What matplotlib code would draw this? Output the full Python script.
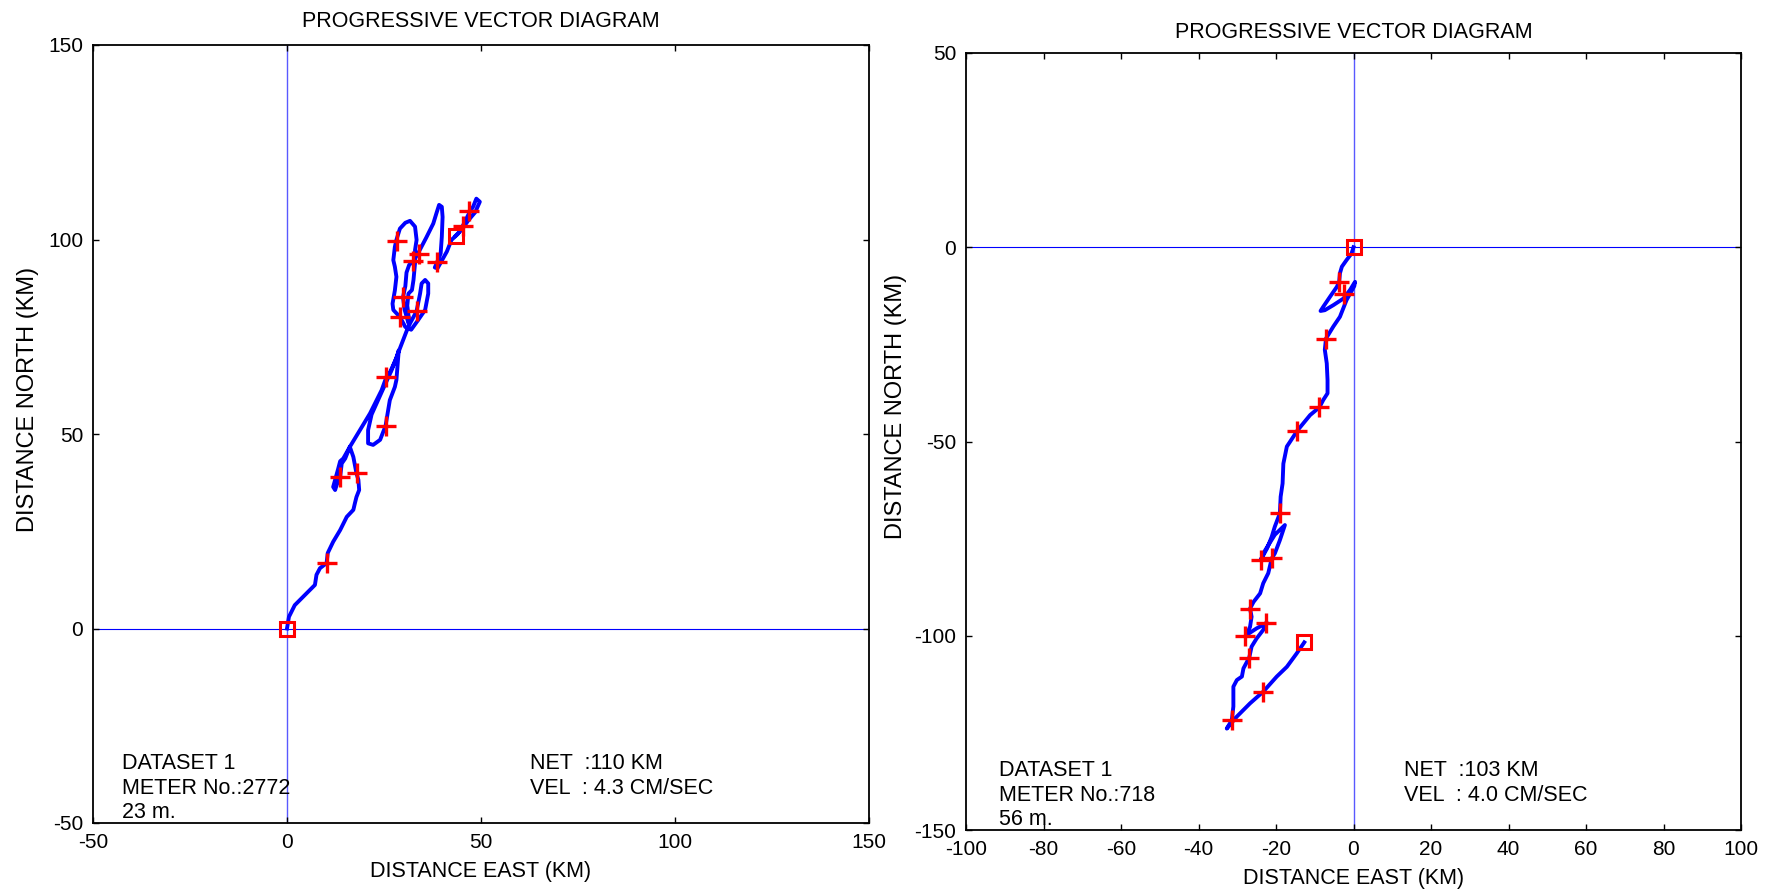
import matplotlib
matplotlib.use("Agg")
import matplotlib.pyplot as plt

plt.rcParams['font.family'] = ['Liberation Sans', 'DejaVu Sans']
plt.rcParams['axes.unicode_minus'] = False

# ---------------- data: left panel (meter 2772) ----------------
left_east = [0, 0.5, 2.0, 4.0, 6.3, 7.2, 7.6, 8.5, 10.2, 10.5, 11.9, 13.7, 15.4, 17.1,
             17.5, 17.9, 18.6, 18.4, 17.9, 17.1, 16.2,
             14.5, 13.7, 13.2, 12.4, 11.9, 12.4, 12.8, 13.7, 14.1, 15.0, 16.2,
             21.4, 24.4, 25.6, 26.5, 28.2, 28.8, 28.6, 28.2, 27.8, 26.5, 25.4, 24.0,
             22.2, 20.9, 20.9, 21.8, 24.5, 27.0, 29.1, 30.8,
             31.7, 33.4, 34.3, 34.7, 35.6, 36.4, 36.4, 35.6, 33.8, 32.0, 30.5,
             29.1, 27.4, 27.2, 27.8, 28.2, 27.8, 27.4, 27.8, 28.2, 29.1, 30.5, 31.7,
             33.0, 33.4, 33.0, 33.0, 32.6, 32.2, 31.3, 31.0, 31.5, 31.3,
             30.3, 29.9, 30.5, 30.8, 31.5, 32.6, 33.8, 35.9, 37.7, 38.5, 39.2, 39.9,
             40.1, 39.9, 39.6, 38.7, 38.1, 38.8, 41.2, 42.4, 44.1, 45.4, 46.8, 48.0,
             48.8, 49.7, 48.5, 46.8, 45.0, 43.5]
left_north = [0, 3.0, 6.0, 8.0, 10.3, 11.2, 13.8, 15.5, 16.8, 19.4, 22.3, 25.3, 28.7, 30.5,
              32.2, 33.8, 35.6, 38.2, 39.9, 44.1, 46.7,
              43.7, 43.0, 41.1, 38.2, 36.4, 35.6, 36.9, 39.0, 42.4, 43.7, 46.7,
              55.3, 61.3, 64.6, 65.8, 69.5, 71.5, 69.0, 63.9, 62.1, 58.7, 52.1, 48.5,
              47.2, 47.6, 51.0, 55.0, 61.0, 66.5, 72.0, 76.4,
              78.4, 81.6, 86.1, 88.7, 89.6, 88.7, 86.1, 81.9, 79.3, 76.8, 77.5,
              80.1, 81.9, 83.5, 86.9, 90.4, 93.0, 94.7, 98.1, 99.9, 102.8, 104.3, 104.8,
              103.3, 99.9, 97.3, 93.9, 89.6, 87.0, 86.1, 83.0, 79.0, 78.5,
              82.0, 85.2, 88.0, 91.5, 93.5, 94.4, 96.5, 100.5, 104.1, 106.7, 108.9, 108.4,
              105.8, 100.7, 96.4, 94.2, 92.8, 92.6, 96.9, 99.9, 101.5, 103.7, 106.5, 108.5,
              110.5, 109.7, 107.0, 105.0, 102.5, 101.0]
left_cross_east = [10.3, 13.7, 18.1, 25.4, 25.6, 29.1, 33.5, 30.0, 28.4, 32.6, 34.0, 38.7, 45.4, 46.8]
left_cross_north = [16.8, 39.0, 39.9, 52.1, 64.6, 80.0, 81.6, 85.2, 99.7, 94.4, 96.4, 94.2, 103.5, 107.2]

# ---------------- data: right panel (meter 718) ----------------
right_east = [0, -0.5, -1.8, -3.0, -3.5, -3.7, -4.3, -6.1, -7.8, -8.5, -7.4, -5.2, -2.6,
              -0.9, 0.4, 0.2, -1.8, -3.5, -5.2, -7.1, -7.4, -6.9, -6.7, -6.7, -7.8, -8.8,
              -11.2, -14.5, -16.4, -17.2, -18.1, -18.3, -18.8, -19.0, -20.3, -21.1, -22.3,
              -23.9, -22.8, -20.3, -17.7, -19.0, -20.3, -21.1, -21.5, -22.0, -23.3, -24.1,
              -25.8, -26.7, -26.3, -26.7, -27.6, -25.0, -23.3, -22.4, -23.3, -25.0, -26.3,
              -26.9, -28.4, -28.8, -30.1, -31.0, -31.0, -31.4, -32.7, -30.1, -26.7, -23.3,
              -19.8, -17.2, -14.7, -12.9, -12.7]
right_north = [0, -1.6, -3.3, -5.0, -6.7, -8.9, -10.2, -12.8, -15.3, -16.4, -16.2, -14.9, -13.2,
               -11.0, -8.9, -10.0, -13.6, -17.9, -20.4, -23.5, -26.4, -29.9, -34.2, -37.6, -39.3, -41.2,
               -43.2, -47.2, -50.1, -51.3, -55.7, -60.8, -64.2, -68.5, -71.9, -74.5, -77.5,
               -80.4, -78.0, -74.0, -71.5, -75.4, -78.8, -80.1, -81.8, -83.9, -86.5, -89.1,
               -91.3, -93.0, -95.1, -97.7, -99.8, -98.1, -97.2, -96.6, -98.5, -100.7, -102.8,
               -105.6, -108.4, -110.5, -111.4, -113.1, -118.2, -121.7, -123.9, -120.8, -117.4, -114.4,
               -110.5, -108.0, -104.6, -102.0, -101.7]
right_cross_east = [-3.7, -2.5, -7.1, -8.8, -14.5, -19.0, -21.1, -23.9, -26.7, -22.6, -28.0, -26.9, -23.3, -31.4]
right_cross_north = [-8.9, -12.0, -23.5, -41.2, -47.2, -68.5, -80.1, -80.4, -93.0, -96.7, -100.1, -105.6, -114.4, -121.7]

# ---------------- tick / text content ----------------
left_xticks = [-50, 0, 50, 100, 150]
left_yticks = [-50, 0, 50, 100, 150]
right_xticks = [-100, -80, -60, -40, -20, 0, 20, 40, 60, 80, 100]
right_yticks = [-150, -100, -50, 0, 50]

title_text = "PROGRESSIVE VECTOR DIAGRAM"
xlabel_text = "DISTANCE EAST (KM)"
ylabel_text = "DISTANCE NORTH (KM)"
left_info = ["DATASET 1", "METER No.:2772", "23 m."]
left_stats = ["NET  :110 KM", "VEL  : 4.3 CM/SEC"]
right_info = ["DATASET 1", "METER No.:718", "56 m."]
right_stats = ["NET  :103 KM", "VEL  : 4.0 CM/SEC"]

FS = 15.5
TFS = 15

fig = plt.figure(figsize=(17.75, 8.92), dpi=100)
axL = fig.add_axes([93/1775, 1-823/892, 776/1775, 778/892])
axR = fig.add_axes([966/1775, 1-830/892, 775/1775, 777/892])


def style(ax, xlim, ylim, xt, yt, pad_title, ylab_x, ylab_y):
    ax.set_xlim(*xlim)
    ax.set_ylim(*ylim)
    ax.set_xticks(xt)
    ax.set_yticks(yt)
    ax.tick_params(direction='in', top=True, right=True, length=4, width=1,
                   labelsize=TFS, pad=7)
    for s in ax.spines.values():
        s.set_linewidth(1.3)
        s.set_color('black')
    ax.axhline(0, color=(0, 0, 1), lw=0.8, zorder=1)
    ax.axvline(0, color=(0.35, 0.35, 1), lw=1.0, zorder=1)
    ax.set_title(title_text, fontsize=FS, pad=pad_title)
    ax.set_xlabel(xlabel_text, fontsize=FS, labelpad=7)
    ax.set_ylabel(ylabel_text, fontsize=17)
    ax.yaxis.set_label_coords(ylab_x, ylab_y)


def draw(ax, ex, ny, cx, cy):
    ax.plot(ex, ny, color=(0, 0, 1), lw=2.8, zorder=3, solid_joinstyle='round')
    ax.plot(cx, cy, linestyle='none', marker='+', color=(1, 0, 0),
            markersize=14, markeredgewidth=2.4, zorder=4)
    ax.plot([ex[0], ex[-1]], [ny[0], ny[-1]], linestyle='none', marker='s',
            markerfacecolor='none', markeredgecolor=(1, 0, 0),
            markersize=10.5, markeredgewidth=2.2, zorder=5)


style(axL, (-50, 150), (-50, 150), left_xticks, left_yticks, 13, -0.0702, 0.545)
draw(axL, left_east, left_north, left_cross_east, left_cross_north)
for i, t in enumerate(left_info):
    axL.text(-42.5, -34.8 - 6.3 * i, t, fontsize=FS, va='center', ha='left')
for i, t in enumerate(left_stats):
    axL.text(62.6, -34.8 - 6.3 * i, t, fontsize=FS, va='center', ha='left')

style(axR, (-100, 100), (-150, 50), right_xticks, right_yticks, 11, -0.0755, 0.545)
draw(axR, right_east, right_north, right_cross_east, right_cross_north)
for i, t in enumerate(right_info):
    axR.text(-91.6, -134.8 - 6.25 * i, t, fontsize=FS, va='center', ha='left')
for i, t in enumerate(right_stats):
    axR.text(13.0, -134.8 - 6.25 * i, t, fontsize=FS, va='center', ha='left')

fig.savefig("out.png", dpi=100)
